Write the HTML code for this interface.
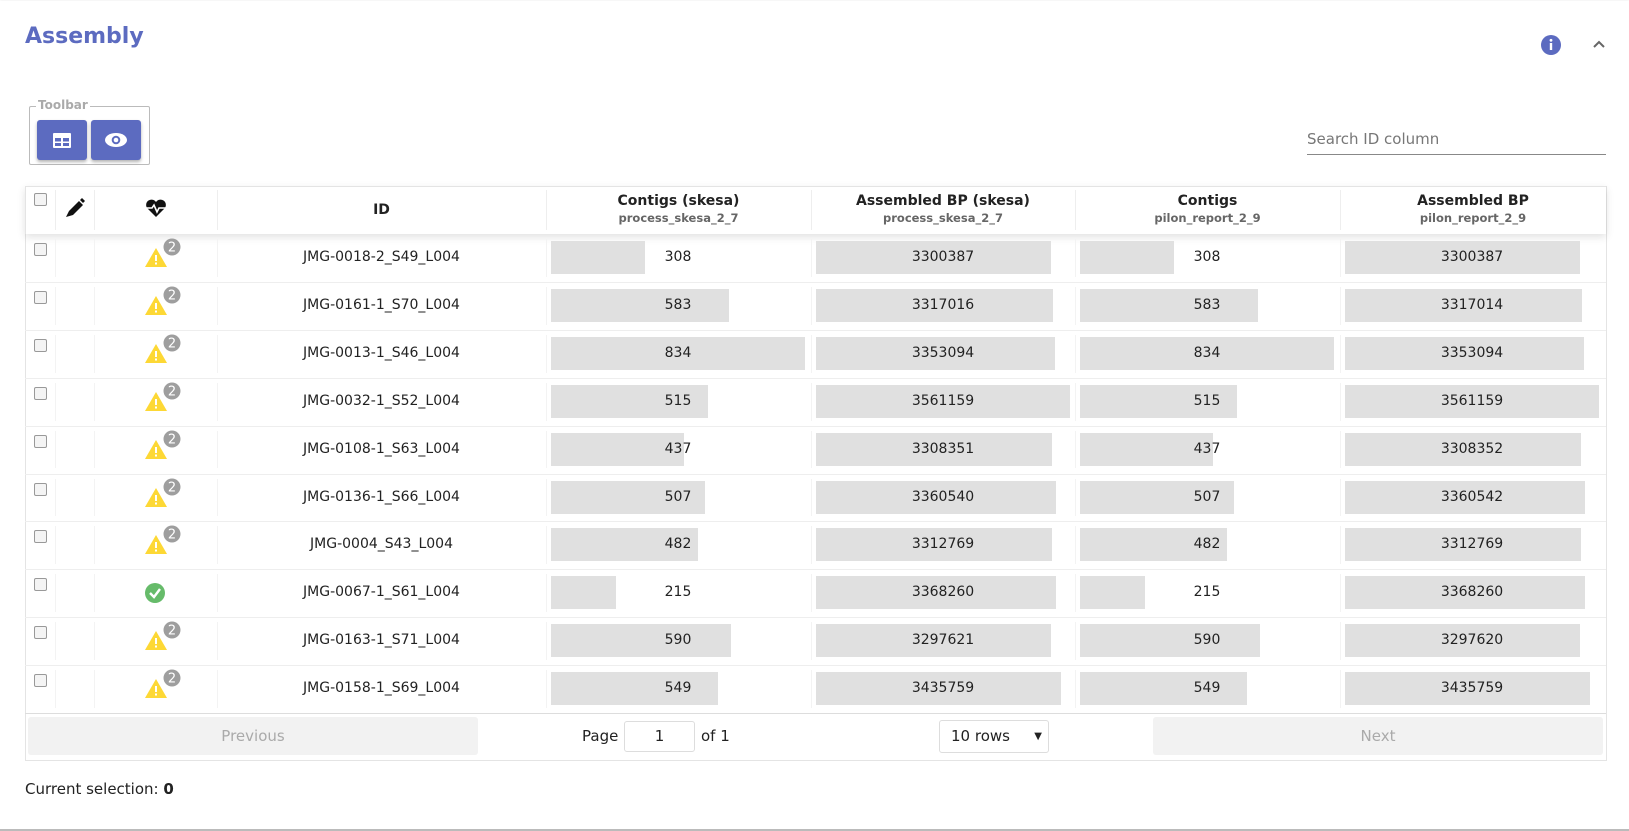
<!DOCTYPE html>
<html><head><meta charset="utf-8"><style>
body{margin:0;width:1629px;height:831px;background:#fff;font-family:"DejaVu Sans","Liberation Sans",sans-serif;color:#222;position:relative;overflow:hidden}
.card{position:absolute;left:0;top:1px;width:1629px;height:828px;border-bottom:2px solid #bbb;box-shadow:0 1px 3px rgba(0,0,0,.2)}
.abs{position:absolute}
.title{left:25px;top:24px;font-size:22px;font-weight:bold;color:#5c6bc0}
.fs{left:29px;top:106px;width:119px;height:57px;border:1px solid #bbb;border-radius:2px}
.fsl{left:36px;top:98px;font-size:12px;font-weight:bold;color:#aaa;background:#fff;padding:0 2px}
.btn{top:120px;width:50px;height:40px;background:#5c6bc0;border-radius:3px;box-shadow:0 2px 3px rgba(0,0,0,.3)}
.search{left:1307px;top:154px;width:299px;border-top:1px solid #888}
.stext{left:1307px;top:130px;font-size:15px;color:#777}
.table{left:25px;top:186px;width:1580px;height:573px;border:1px solid #e4e4e4}
.hdr{left:25px;top:186px;width:1581px;height:48px;box-shadow:0 3px 8px rgba(0,0,0,.12)}
.th{text-align:center;font-size:14px;font-weight:bold}
.th small{display:block;font-size:11.5px;color:#666;margin-top:2px}
.cell{font-size:14px;text-align:center}
.bar{background:#e0e0e0;height:33px}
.chk{width:11px;height:11px;border:1px solid #999;border-radius:2px;background:#f4f4f4}
.pbtn{top:717px;height:38px;background:#f2f2f2;border-radius:3px;color:#aaa;font-size:15px;text-align:center;line-height:38px}
</style></head><body>
<div class="card"></div>
<div class="abs title">Assembly</div>
<svg class="abs" style="left:1540px;top:34px" width="22" height="22"><circle cx="11" cy="11" r="10" fill="#5c6bc0"/><rect x="9.8" y="9" width="2.4" height="7" fill="#fff"/><circle cx="11" cy="6.3" r="1.4" fill="#fff"/></svg>
<svg class="abs" style="left:1592px;top:39px" width="14" height="10"><polyline points="2,8 7,3 12,8" fill="none" stroke="#666" stroke-width="2"/></svg>
<div class="abs fs"></div>
<div class="abs fsl">Toolbar</div>
<div class="abs btn" style="left:37px"><svg width="50" height="40"><rect x="16" y="13" width="18" height="15" rx="1" fill="#fff"/><rect x="18" y="18" width="6" height="3.5" fill="#5c6bc0"/><rect x="26" y="18" width="6" height="3.5" fill="#5c6bc0"/><rect x="18" y="23" width="6" height="3" fill="#5c6bc0"/><rect x="26" y="23" width="6" height="3" fill="#5c6bc0"/></svg></div>
<div class="abs btn" style="left:91px"><svg width="50" height="40"><ellipse cx="25" cy="20" rx="11" ry="7" fill="#fff"/><circle cx="25" cy="20" r="4.3" fill="#5c6bc0"/><circle cx="25" cy="20" r="2.3" fill="#fff"/></svg></div>
<div class="abs stext">Search ID column</div>
<div class="abs search"></div>
<div class="abs table"></div>
<div class="abs hdr" id="hdr"></div>
<div id="rows"></div>
<div class="abs" style="left:25px;top:713px;width:1581px;border-top:1px solid #ddd"></div>
<div class="abs pbtn" style="left:28px;width:450px">Previous</div>
<div class="abs" style="left:582px;top:727px;font-size:15px">Page</div>
<div class="abs" style="left:624px;top:721px;width:69px;height:29px;border:1px solid #ddd;border-radius:3px;font-size:15px;line-height:29px;text-align:center">1</div>
<div class="abs" style="left:701px;top:727px;font-size:15px">of 1</div>
<div class="abs" style="left:939px;top:720px;width:108px;height:31px;border:1px solid #ddd;border-radius:3px;font-size:15px;line-height:31px"><span style="margin-left:11px">10 rows</span><span style="position:absolute;right:6px;font-size:10px">▼</span></div>
<div class="abs pbtn" style="left:1153px;width:450px">Next</div>
<div class="abs" style="left:25px;top:780px;font-size:15px">Current selection: <b>0</b></div>
<script>
const ids=["JMG-0018-2_S49_L004","JMG-0161-1_S70_L004","JMG-0013-1_S46_L004","JMG-0032-1_S52_L004","JMG-0108-1_S63_L004","JMG-0136-1_S66_L004","JMG-0004_S43_L004","JMG-0067-1_S61_L004","JMG-0163-1_S71_L004","JMG-0158-1_S69_L004"];
const warnings=[2,2,2,2,2,2,2,0,2,2];
const contigsSkesa=[308,583,834,515,437,507,482,215,590,549];
const bpSkesa=[3300387,3317016,3353094,3561159,3308351,3360540,3312769,3368260,3297621,3435759];
const contigsPilon=[308,583,834,515,437,507,482,215,590,549];
const bpPilon=[3300387,3317014,3353094,3561159,3308352,3360542,3312769,3368260,3297620,3435759];
const colX=[25,55,94,217,546,811,1075,1340,1606];
const headers=[["Contigs (skesa)","process_skesa_2_7"],["Assembled BP (skesa)","process_skesa_2_7"],["Contigs","pilon_report_2_9"],["Assembled BP","pilon_report_2_9"]];
const top0=234,rh=47.9,barMax=254;
const root=document.getElementById('rows');
function add(html,l,t,w,h,cls,name,inter){const d=document.createElement('div');d.className='abs '+(cls||'');d.style.cssText=`left:${l}px;top:${t}px;width:${w}px;height:${h}px`;d.innerHTML=html;


root.appendChild(d);return d;}
add('<div class="chk"></div>',34,193,13,13,'','select-all-checkbox',true);
add('<svg width="24" height="24"><path d="M3 21 L6 15 L16 5 L20 9 L10 19 Z" fill="#111"/><path d="M17 4 L19 2 L22 5 L20 7Z" fill="#111"/></svg>',63,196,24,24,'','edit-icon',false);
add('<svg width="24" height="22"><path d="M12 20 L3 11 A5 5 0 0 1 12 5 A5 5 0 0 1 21 11 Z" fill="#111"/><polyline points="2,11 8,11 10,8 13,15 15,11 22,11" fill="none" stroke="#fff" stroke-width="1.6"/></svg>',144,197,24,22,'','health-icon',false);
add('<div class="th" style="line-height:48px">ID</div>',colX[3],186,colX[4]-colX[3],48,'','id-header',true);
for(let c=1;c<8;c++){add('',colX[c],190,1,40,'','header-divider',false).style.background='#eee';}
headers.forEach((h,i)=>{add(`<div class="th" style="padding-top:7px">${h[0]}<small>${h[1]}</small></div>`,colX[4+i],186,colX[5+i]-colX[4+i],48,'','column-header-'+(i+1),true);});
const maxC=Math.max(...contigsSkesa,...contigsPilon),maxB=Math.max(...bpSkesa,...bpPilon);
const series=[[contigsSkesa,maxC],[bpSkesa,maxB],[contigsPilon,maxC],[bpPilon,maxB]];
ids.forEach((id,r)=>{
 const y=top0+r*rh;
 if(r>0){add('',25,y,1581,1,'','row-divider',false).style.borderTop='1px solid #eee';}
 for(let c=1;c<8;c++){add('',colX[c],y+5,1,rh-10,'','cell-divider',false).style.background='#f3f3f3';}
 add('<div class="chk"></div>',34,y+9,13,13,'','row-checkbox',true);
 if(warnings[r]>0){
  add(`<svg width="40" height="34"><polygon points="11,10 22,29 0,29" fill="#fdd835"/><rect x="10" y="17" width="2" height="6" fill="#fff"/><rect x="10" y="24.5" width="2" height="2" fill="#fff"/><circle cx="27" cy="9" r="8.5" fill="#9e9e9e"/><text x="27" y="13.5" font-size="13" fill="#fff" text-anchor="middle" font-family="DejaVu Sans">${warnings[r]}</text></svg>`,145,y+4,40,34,'','warning-badge',false);
 }else{
  add('<svg width="24" height="24"><circle cx="11" cy="11" r="10" fill="#66bb6a"/><polyline points="6,11 10,15 16,7" fill="none" stroke="#fff" stroke-width="2.4"/></svg>',144,y+13,24,24,'','ok-icon',false);
 }
 add(`<div class="cell" style="line-height:${rh}px">${id}</div>`,colX[3],y,colX[4]-colX[3],rh,'','sample-id',false);
 series.forEach((s,i)=>{
  const x0=colX[4+i]+5,w=s[0][r]/s[1]*barMax;
  add('',x0,y+7,w,33,'bar','value-bar',false);
  add(`<div class="cell" style="line-height:${rh}px">${s[0][r]}</div>`,x0,y,barMax,rh,'','value-label',false);
 });
});
</script>
</body></html>
